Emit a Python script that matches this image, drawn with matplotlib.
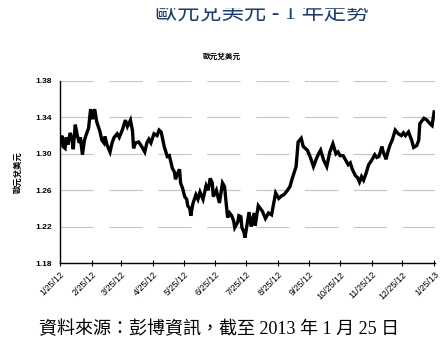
import pandas as pd
import matplotlib
matplotlib.use("Agg")
import matplotlib.pyplot as plt
from matplotlib.patches import Rectangle

plt.rcParams['font.family'] = ['Liberation Sans', 'Noto Sans CJK TC', 'DejaVu Sans']

# --- Data ---
start_date = pd.Timestamp('2012-01-25')
day_offset = [
    0, 2, 3, 5, 6, 8, 10, 12, 13, 15, 17, 19, 20, 22, 24, 26, 28, 30, 32, 34,
    36, 39, 41, 43, 44, 46, 49, 51, 53, 56, 58, 61, 64, 66, 69, 71, 72, 74, 77, 80,
    83, 85, 87, 89, 92, 95, 97, 99, 102, 105, 107, 110, 112, 113, 115, 117, 118, 120, 122, 124,
    125, 127, 128, 130, 133, 135, 137, 140, 143, 145, 147, 149, 150, 153, 156, 159, 161, 164, 166, 168,
    170, 171, 172, 174, 175, 177, 178, 180, 181, 183, 185, 187, 190, 191, 194, 196, 198, 201, 204, 207,
    209, 211, 214, 217, 219, 222, 225, 227, 229, 231, 233, 236, 238, 240, 242, 245, 248, 251, 253, 255,
    258, 261, 264, 267, 270, 272, 274, 277, 279, 282, 284, 286, 289, 291, 293, 295, 297, 299, 302, 305,
    308, 310, 312, 315, 316, 319, 321, 323, 325, 328, 331, 334, 336, 338, 341, 344, 346, 349, 351, 352,
    354, 356, 359, 362, 364, 366,
]
eurusd = [
    1.312, 1.320, 1.308, 1.306, 1.318, 1.310, 1.323, 1.315, 1.305, 1.332, 1.320, 1.312, 1.318, 1.299, 1.315, 1.322, 1.328, 1.349, 1.338, 1.349,
    1.335, 1.325, 1.315, 1.312, 1.319, 1.310, 1.302, 1.312, 1.318, 1.322, 1.318, 1.326, 1.337, 1.330, 1.337, 1.325, 1.306, 1.312, 1.313, 1.308,
    1.302, 1.312, 1.316, 1.312, 1.322, 1.320, 1.326, 1.324, 1.308, 1.297, 1.298, 1.284, 1.280, 1.272, 1.278, 1.283, 1.268, 1.262, 1.253, 1.250,
    1.243, 1.240, 1.232, 1.245, 1.255, 1.250, 1.258, 1.250, 1.265, 1.260, 1.273, 1.268, 1.253, 1.260, 1.246, 1.268, 1.264, 1.230, 1.235, 1.232,
    1.226, 1.219, 1.221, 1.225, 1.232, 1.231, 1.219, 1.214, 1.208, 1.222, 1.236, 1.220, 1.235, 1.221, 1.243, 1.240, 1.237, 1.229, 1.235, 1.233,
    1.245, 1.257, 1.251, 1.254, 1.255, 1.259, 1.264, 1.272, 1.279, 1.286, 1.313, 1.317, 1.308, 1.306, 1.304, 1.296, 1.286, 1.295, 1.300, 1.304,
    1.293, 1.286, 1.302, 1.311, 1.300, 1.302, 1.298, 1.298, 1.294, 1.288, 1.290, 1.283, 1.276, 1.274, 1.269, 1.275, 1.271, 1.277, 1.288, 1.293,
    1.299, 1.296, 1.297, 1.308, 1.303, 1.294, 1.303, 1.310, 1.315, 1.326, 1.322, 1.320, 1.323, 1.320, 1.324, 1.315, 1.307, 1.309, 1.315, 1.333,
    1.336, 1.339, 1.337, 1.333, 1.331, 1.346,
]
tick_dates = ['2012-01-25', '2012-02-25', '2012-03-25', '2012-04-25', '2012-05-25', '2012-06-25', '2012-07-25',
              '2012-08-25', '2012-09-25', '2012-10-25', '2012-11-25', '2012-12-25', '2013-01-25']
y_ticks = [1.18, 1.22, 1.26, 1.30, 1.34, 1.38]

dates = start_date + pd.to_timedelta(day_offset, unit='D')
ticks = pd.to_datetime(tick_dates)

# --- Figure ---
fig = plt.figure(figsize=(4.44, 3.43), dpi=100)
ax = fig.add_axes([0.135, 0.233, 0.845, 0.531])

ax.plot(dates, eurusd, color='black', lw=2.4, solid_joinstyle='miter')

ax.set_ylim(1.18, 1.38)
ax.set_xlim(pd.Timestamp('2012-01-25'), pd.Timestamp('2013-01-26'))
ax.set_yticks(y_ticks)
ax.set_yticklabels([f"{v:.2f}" for v in y_ticks], fontsize=6, fontweight='bold')
ax.set_xticks(ticks)
ax.set_xticklabels([f"{d.month}/{d.day}/{d.strftime('%y')}" for d in ticks],
                   rotation=45, ha='right', rotation_mode='anchor', fontsize=6.5)
ax.tick_params(axis='y', length=0, pad=6)
ax.tick_params(axis='x', direction='inout', length=4, width=0.8, pad=3)

for y in y_ticks[1:]:
    ax.axhline(y, color='#c4c4c4', lw=0.8, dashes=(30, 14), zorder=0)

for s in ['top', 'right']:
    ax.spines[s].set_visible(False)
for s in ['left', 'bottom']:
    ax.spines[s].set_linewidth(1.0)

ax.set_ylabel('歐元兌美元', fontsize=6, fontweight='bold', labelpad=9)

# title (its upper part is cut off in the original)
fig.text(0.59, 1 - 20 / 343, '歐元兌美元 - 1 年走勢', ha='center', va='baseline',
         fontsize=16, color='#1d3c6e', family=['Liberation Serif', 'Noto Sans CJK TC'])
fig.add_artist(Rectangle((0, 1 - 7 / 343), 1, 7 / 343, transform=fig.transFigure,
                         color='white', zorder=10))
fig.text(0.5, 1 - 57 / 343, '歐元兌美元', ha='center', va='center',
         fontsize=5.5, fontweight='bold')
fig.text(0.494, 1 - 330 / 343, '資料來源：彭博資訊，截至 2013 年 1 月 25 日', ha='center', va='center',
         fontsize=13, family=['Liberation Serif', 'Noto Sans CJK TC'])

fig.savefig('out.png', dpi=100)
